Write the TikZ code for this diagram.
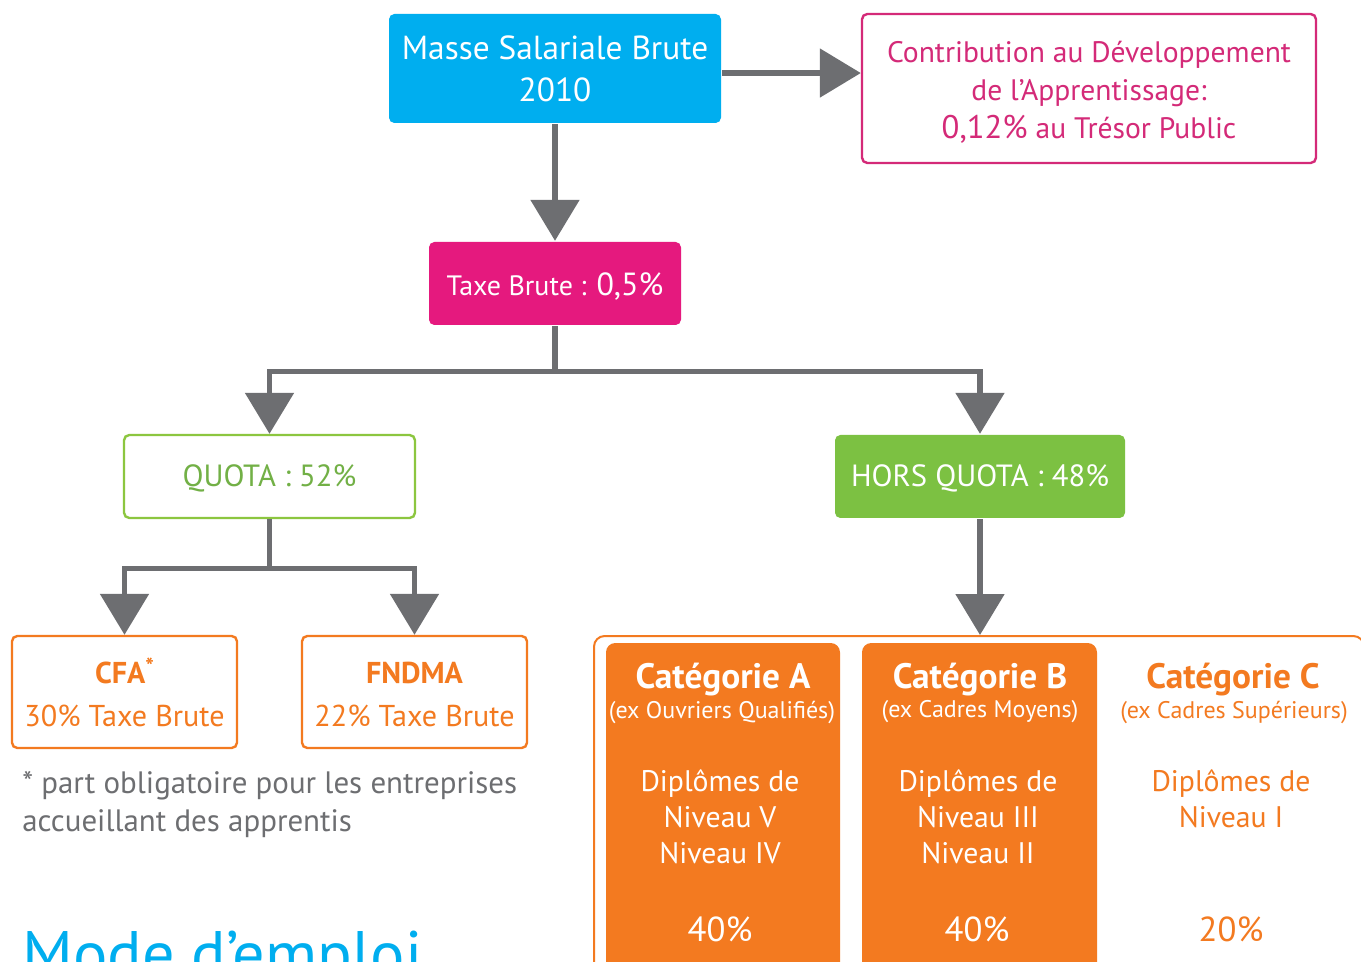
\documentclass[tikz,border=0pt]{standalone}
\usepackage{fontspec}
\setmainfont{PT Sans}
\usetikzlibrary{arrows.meta}
\definecolor{cyanb}{HTML}{00AEEF}
\definecolor{magb}{HTML}{E5197E}
\definecolor{pinkt}{HTML}{D42A78}
\definecolor{greenf}{HTML}{7CC142}
\definecolor{greenl}{HTML}{8CC63F}
\definecolor{greent}{HTML}{72B046}
\definecolor{orng}{HTML}{F37A20}
\definecolor{grayc}{HTML}{6D6E71}
\begin{document}
\begin{tikzpicture}[x=0.75pt,y=-0.75pt,
  box/.style={rectangle, rounded corners=4pt, inner sep=0pt, line width=1.8pt, align=center},
  conn/.style={draw=grayc, line width=4pt, -{Triangle[length=30.75pt,width=36pt]}},
  trunk/.style={draw=grayc, line width=4pt},
  cattitle/.style={font=\fontsize{26.5}{30}\selectfont\bfseries, inner sep=0pt},
  catsub/.style={font=\fontsize{18}{21}\selectfont, inner sep=0pt},
  catbody/.style={font=\fontsize{22.3}{27}\selectfont, inner sep=0pt, align=center},
  catpct/.style={font=\fontsize{26}{30}\selectfont, inner sep=0pt}]
\useasboundingbox (0,0) rectangle (1361,962);
\clip (0,0) rectangle (1361,962);
\fill[white] (0,0) rectangle (1361,962);

% top boxes
\node[box, fill=cyanb, minimum width=249pt, minimum height=81.75pt, text=white,
  font=\fontsize{25}{31.5}\selectfont] (msb) at (555,68.5) {Masse Salariale Brute\\2010};
\node[box, draw=pinkt, fill=white, minimum width=340.5pt, minimum height=111.75pt, text=pinkt,
  font=\fontsize{22.2}{28}\selectfont] (cda) at (1089,88.5)
  {\rule{0pt}{22pt}Contribution au Développement\\de l’Apprentissage:\\[1pt]{\fontsize{24.5}{28}\selectfont 0,12\%} au Trésor Public};
\node[box, fill=magb, minimum width=189pt, minimum height=62.25pt, text=white,
  font=\fontsize{21}{26}\selectfont] (taxe) at (555,283.5) {\rule{0pt}{21pt}Taxe Brute : {\fontsize{24}{26}\selectfont 0,5\%}};

% quota level
\node[box, draw=greenl, fill=white, minimum width=218.25pt, minimum height=62.25pt, text=greent,
  font=\fontsize{23}{26}\selectfont] (quota) at (269.5,476.5) {\rule{0pt}{19pt}QUOTA : 52\%};
\node[box, fill=greenf, minimum width=217.5pt, minimum height=62.25pt, text=white,
  font=\fontsize{23}{26}\selectfont] (hq) at (980,476.5) {\rule{0pt}{19pt}HORS QUOTA : 48\%};

% CFA / FNDMA
\node[box, draw=orng, fill=white, minimum width=168.75pt, minimum height=84pt, text=orng,
  font=\fontsize{22.6}{32}\selectfont] (cfa) at (124.5,692) {\rule{0pt}{20pt}{\bfseries CFA\raisebox{7pt}{\fontsize{17}{17}\selectfont *}}\\30\% Taxe Brute};
\node[box, draw=orng, fill=white, minimum width=168.75pt, minimum height=84pt, text=orng,
  font=\fontsize{22.6}{32}\selectfont] (fndma) at (414.5,692) {\rule{0pt}{20pt}{\bfseries FNDMA}\\22\% Taxe Brute};

\node[anchor=west, align=left, text=grayc, inner sep=0pt,
  font=\fontsize{23.2}{28.5}\selectfont] (note) at (22,805) {* part obligatoire pour les entreprises\\accueillant des apprentis};

% categories container
\node[draw=orng, line width=1.5pt, rounded corners=8pt, fill=white, inner sep=0pt,
  minimum width=577.5pt, minimum height=265.5pt] (cont) at (979,813) {};
\node[fill=orng, rounded corners=7pt, inner sep=0pt, minimum width=175.5pt, minimum height=260.25pt] (ca) at (723,816.5) {};
\node[fill=orng, rounded corners=7pt, inner sep=0pt, minimum width=176.25pt, minimum height=260.25pt] (cb) at (979.5,816.5) {};

\node[cattitle, text=white] (ta) at (723,680) {Catégorie A};
\node[catsub, text=white] (sa) at (722,712) {(ex Ouvriers Qualifiés)};
\node[catbody, text=white] (da) at (720,817) {Diplômes de\\Niveau V\\Niveau IV};
\node[catpct, text=white] (pa) at (720,929) {40\%};

\node[cattitle, text=white] (tb) at (980,680) {Catégorie B};
\node[catsub, text=white] (sb) at (980,712) {(ex Cadres Moyens)};
\node[catbody, text=white] (db) at (978,817) {Diplômes de\\Niveau III\\Niveau II};
\node[catpct, text=white] (pb) at (977,929) {40\%};

\node[cattitle, text=orng] (tc) at (1233,680) {Catégorie C};
\node[catsub, text=orng] (sc) at (1234,712) {(ex Cadres Supérieurs)};
\node[catbody, text=orng] (dc) at (1231,799) {Diplômes de\\Niveau I};
\node[catpct, text=orng] (pc) at (1231,929) {20\%};

\node[anchor=base west, text=cyanb, inner sep=0pt, font=\fontsize{48.2}{50}\selectfont] (mode) at (22,976) {Mode d’emploi};

% connectors
\coordinate (ae) at ([yshift=-3.4pt]msb.east);
\draw[conn] (ae) -- (ae -| cda.west);
\draw[conn] (msb.south) -- (taxe.north);
\draw[trunk] (taxe.south) -- ++(0,45) coordinate (tj);
\draw[conn] (tj) -| (quota.north);
\draw[conn] (tj) -| (hq.north);
\draw[trunk] (quota.south) -- ++(0,49) coordinate (qj);
\draw[conn] (qj) -| (cfa.north);
\draw[conn] (qj) -| (fndma.north);
\draw[conn] (hq.south) -- (hq.south |- cont.north);
\end{tikzpicture}
\end{document}
